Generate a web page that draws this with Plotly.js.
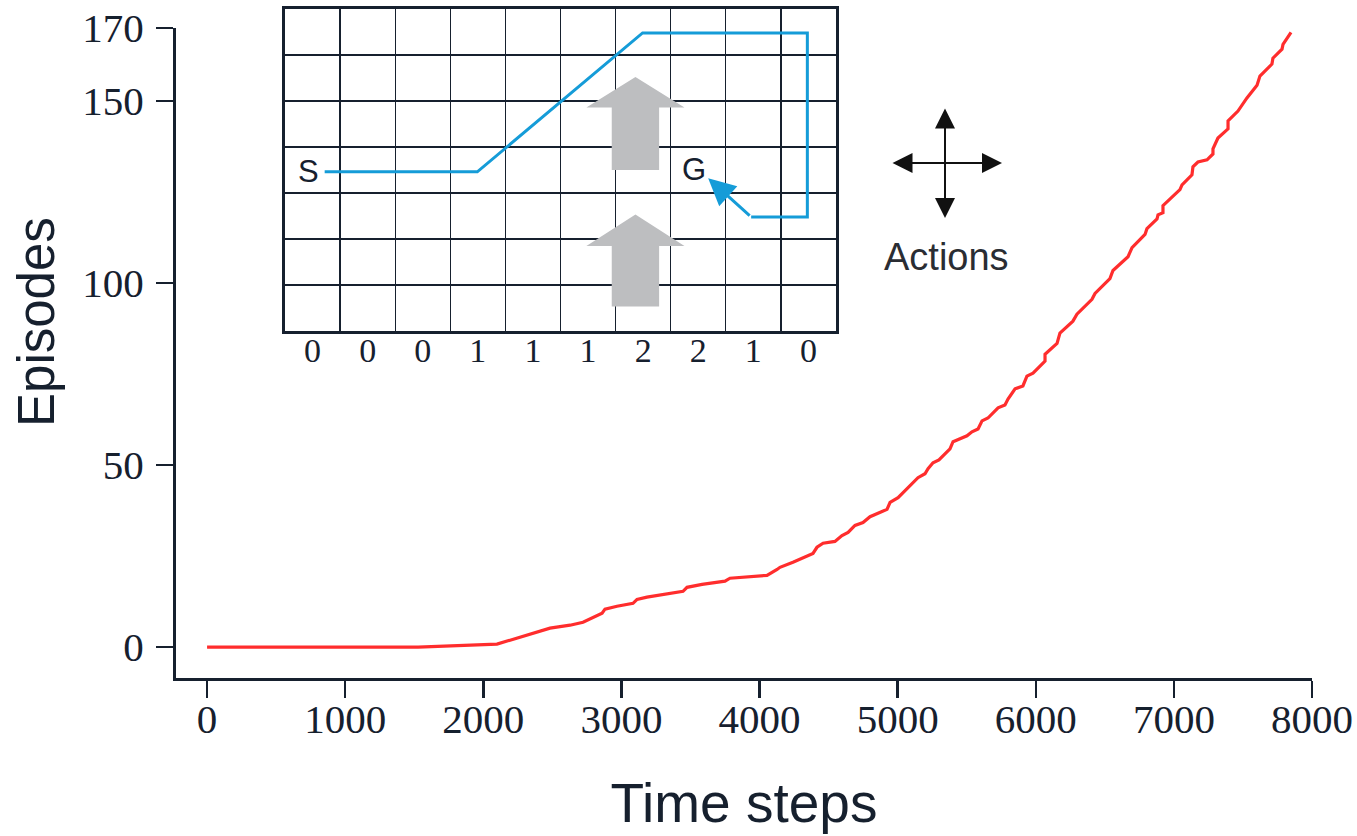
<!DOCTYPE html>
<html>
<head>
<meta charset="utf-8">
<script src="https://cdn.plot.ly/plotly-3.0.1.min.js"></script>
<style>html,body{margin:0;padding:0;background:#fff;}#chart{width:1357px;height:836px;}</style>
</head>
<body>
<div id="chart"></div>
<script>
// ---- data ----
const timeSteps = [0,1528,2099,2317,2411,2483,2628,2722,2860,2881,2968,3084,3113,3185,3446,3475,3584,3750,3786,4054,4127,4148,4242,4315,4387,4416,4460,4546,4597,4641,4691,4749,4800,4887,4923,4945,5003,5147,5198,5220,5256,5299,5379,5401,5502,5538,5582,5611,5654,5727,5777,5799,5850,5907,5936,5980,6067,6067,6154,6175,6269,6298,6407,6429,6537,6559,6668,6697,6791,6805,6878,6885,6921,6921,7044,7059,7131,7138,7174,7240,7283,7283,7319,7392,7392,7464,7529,7602,7623,7710,7717,7783,7790,7848];
const episodes = [0,0,0.8,3.3,4.4,5.2,6.0,6.8,9.3,10.4,11.2,12.0,13.1,13.7,15.3,16.4,17.2,18.1,18.9,19.7,21.3,21.9,23.3,24.4,25.7,27.4,28.5,29.0,30.6,31.5,33.4,34.2,35.8,37.2,37.8,39.7,41.0,46.5,47.6,49.0,50.6,51.4,54.4,56.4,58.0,59.1,59.9,62.1,62.9,65.7,66.5,68.1,70.9,71.7,74.4,75.2,78.5,80.4,83.4,86.2,89.5,91.4,95.5,97.1,101.2,103.4,107.2,109.7,113.3,114.9,117.6,118.7,119.3,121.2,125.6,126.9,129.7,131.9,133.2,133.8,135.4,136.8,139.8,142.3,144.5,147.2,150.8,154.3,156.8,160.1,161.7,164.2,165.5,168.8];
const xTickVals = [0,1000,2000,3000,4000,5000,6000,7000,8000];
const yTickVals = [0,50,100,150,170];
const xTitle = 'Time steps';
const yTitle = 'Episodes';

// gridworld inset
const gridCols = 10;
const gridRows = 7;
const windStrength = [0,0,0,1,1,1,2,2,1,0];
const colCenters = windStrength.map((w,i)=>i+0.5);
const pathX = [0.72,3.49,6.49,9.48,9.48,8.46];
const pathY = [3.46,3.46,6.48,6.48,2.48,2.48];
const pathArrowTip = [7.68,3.32];
const startLabel = {text:'S', x:0.42, y:3.46};
const goalLabel = {text:'G', x:7.42, y:3.5};
const actionsLabel = 'Actions';

const NAVY = '#16202e';
const RED = '#ff2d2d';
const BLUE = '#159cd8';
const GRAY = '#bdbec0';

// plot area geometry (pixels)
const W = 1357, H = 836;
const mL = 176, mR = 45, mT = 8, mB = 158;
const pw = W - mL - mR, ph = H - mT - mB;
const px = x => (x - mL) / pw;
const py = y => (H - mB - y) / ph;

const traces = [
  {x: timeSteps, y: episodes, type: 'scatter', mode: 'lines',
   line: {color: RED, width: 3.2}, xaxis: 'x', yaxis: 'y', hoverinfo: 'skip'},
  {x: pathX, y: pathY, type: 'scatter', mode: 'lines',
   line: {color: BLUE, width: 3}, xaxis: 'x2', yaxis: 'y2', hoverinfo: 'skip'}
];

function blockArrow(cx, tipY, headBaseY, bottomY, headHalf, shaftHalf) {
  return 'M ' + (cx - shaftHalf) + ',' + bottomY +
         ' L ' + (cx - shaftHalf) + ',' + headBaseY +
         ' L ' + (cx - headHalf) + ',' + headBaseY +
         ' L ' + cx + ',' + tipY +
         ' L ' + (cx + headHalf) + ',' + headBaseY +
         ' L ' + (cx + shaftHalf) + ',' + headBaseY +
         ' L ' + (cx + shaftHalf) + ',' + bottomY + ' Z';
}

const shapes = [
  {type:'path', xref:'x2', yref:'y2', path: blockArrow(6.36, 5.52, 4.86, 3.50, 0.89, 0.43),
   fillcolor: GRAY, line:{width:0}, layer:'above'},
  {type:'path', xref:'x2', yref:'y2', path: blockArrow(6.36, 2.53, 1.85, 0.53, 0.89, 0.43),
   fillcolor: GRAY, line:{width:0}, layer:'above'}
];

const annotations = [
  {xref:'paper', yref:'paper', x: px(37), y: py(322), text: yTitle, textangle: -90, showarrow:false,
   xanchor:'center', yanchor:'middle', font:{family:'Liberation Sans', size:51, color:NAVY}},
  {xref:'x2', yref:'y2', x: startLabel.x, y: startLabel.y, text: startLabel.text, showarrow:false,
   xanchor:'center', yanchor:'middle', font:{family:'Liberation Sans', size:31, color:NAVY}},
  {xref:'x2', yref:'y2', x: goalLabel.x, y: goalLabel.y, text: goalLabel.text, showarrow:false,
   xanchor:'center', yanchor:'middle', font:{family:'Liberation Sans', size:31, color:NAVY}},
  {xref:'x2', yref:'y2', axref:'x2', ayref:'y2', x: pathArrowTip[0], y: pathArrowTip[1],
   ax: pathX[pathX.length-1], ay: pathY[pathY.length-1], text:'', showarrow:true,
   arrowhead:2, arrowsize:1.8, arrowwidth:3, arrowcolor:BLUE, standoff:0},
  // actions cross
  {xref:'paper', yref:'paper', x: px(1002), y: py(163), ax: -111, ay: 0, text:'', showarrow:true,
   arrowhead:2, startarrowhead:2, arrowside:'end+start', arrowsize:2, startarrowsize:2, arrowwidth:2, arrowcolor:'#111'},
  {xref:'paper', yref:'paper', x: px(945), y: py(218), ax: 0, ay: -111, text:'', showarrow:true,
   arrowhead:2, startarrowhead:2, arrowside:'end+start', arrowsize:2, startarrowsize:2, arrowwidth:2, arrowcolor:'#111'},
  {xref:'paper', yref:'paper', x: px(946), y: py(257), text: actionsLabel, showarrow:false,
   xanchor:'center', yanchor:'middle', font:{family:'Liberation Sans', size:38, color:'#2a2d33'}}
];

const layout = {
  width: W, height: H,
  margin: {l: mL, r: mR, t: mT, b: mB, pad: 0},
  paper_bgcolor: '#fff', plot_bgcolor: 'rgba(0,0,0,0)',
  showlegend: false,
  xaxis: {
    range: [-225, 8000], tickvals: xTickVals, ticks: 'outside', ticklen: 17, tickwidth: 2.5,
    tickcolor: NAVY, showline: true, linewidth: 3, linecolor: NAVY, showgrid: false, zeroline: false,
    tickfont: {family: 'Liberation Serif', size: 41, color: NAVY}, ticklabelstandoff: -14,
    title: {text: xTitle, font: {family: 'Liberation Sans', size: 55, color: NAVY}, standoff: 43},
    anchor: 'y', fixedrange: true
  },
  yaxis: {
    domain: [0, py(28)], range: [-8.5, 170], tickvals: yTickVals, ticks: 'outside', ticklen: 17, tickwidth: 2.5,
    tickcolor: NAVY, showline: true, linewidth: 3, linecolor: NAVY, showgrid: false, zeroline: false,
    tickfont: {family: 'Liberation Serif', size: 41, color: NAVY}, ticklabelstandoff: 4,
    anchor: 'x', fixedrange: true
  },
  xaxis2: {
    domain: [px(285), px(836)], range: [0, gridCols], anchor: 'y2',
    tickvals: colCenters, ticktext: windStrength.map(String), ticks: '', showgrid: false,
    minor: {dtick: 1, tick0: 0, showgrid: true, gridcolor: NAVY, gridwidth: 1.3, ticks: ''},
    showline: true, mirror: true, linewidth: 3, linecolor: NAVY, zeroline: false,
    tickfont: {family: 'Liberation Serif', size: 34, color: NAVY}, ticklabelstandoff: -13, fixedrange: true
  },
  yaxis2: {
    domain: [py(331), py(9)], range: [0, gridRows], anchor: 'x2',
    dtick: 1, tick0: 0, showticklabels: false, ticks: '', showgrid: true, gridcolor: NAVY, gridwidth: 1.3,
    showline: true, mirror: true, linewidth: 3, linecolor: NAVY, zeroline: false, fixedrange: true
  },
  shapes: shapes,
  annotations: annotations
};

Plotly.newPlot('chart', traces, layout, {staticPlot: true, displayModeBar: false});
</script>
</body>
</html>
